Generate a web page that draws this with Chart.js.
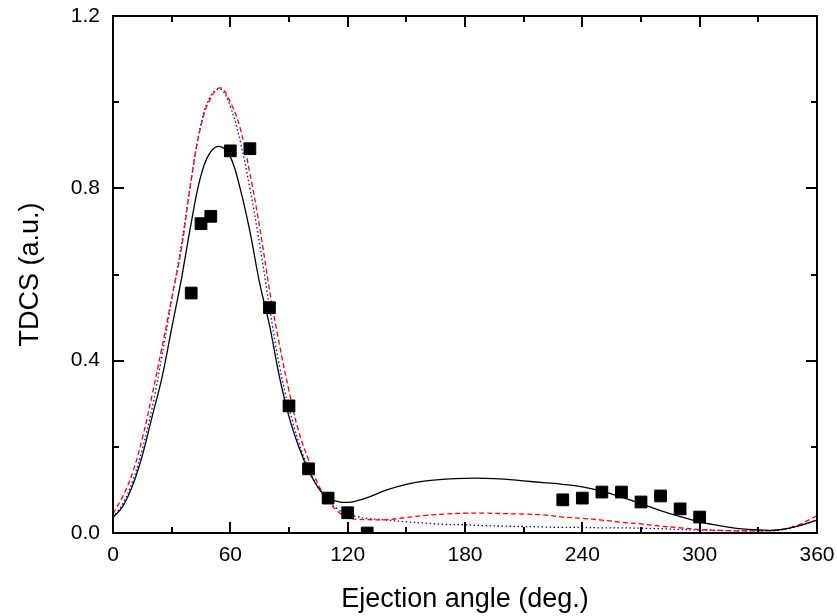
<!DOCTYPE html>
<html>
<head>
<meta charset="utf-8">
<script src="https://cdn.jsdelivr.net/npm/chart.js@4.4.1/dist/chart.umd.min.js"></script>
<style>
html, body { margin: 0; padding: 0; background: #fff; }
</style>
</head>
<body>
<canvas id="tdcsChart" width="837" height="616"></canvas>
<script>
// measured TDCS points
var expAngles = [40, 45, 50, 60, 70, 80, 90, 100, 110, 120, 130, 230, 240, 250, 260, 270, 280, 290, 300];
var expTdcs = [0.557, 0.718, 0.735, 0.887, 0.892, 0.523, 0.295, 0.149, 0.081, 0.047, 0.0, 0.077, 0.081, 0.095, 0.095, 0.072, 0.086, 0.056, 0.037];

// theory curves, sampled on a common angle grid
var curveAngles = [0, 5, 10, 15, 20, 25, 30, 35, 40, 45, 50, 55, 60, 65, 70, 75, 80, 85, 90, 95,
	100, 105, 110, 115, 120, 125, 130, 140, 150, 160, 170, 180, 190, 200, 210, 220, 230, 240,
	250, 260, 270, 280, 290, 300, 310, 320, 330, 340, 350, 360];
var solidCurve = [0.036, 0.062, 0.11, 0.18, 0.27, 0.36, 0.475, 0.59, 0.72, 0.83, 0.885, 0.897, 0.873, 0.80, 0.70, 0.58, 0.483, 0.365, 0.27, 0.20,
	0.145, 0.105, 0.081, 0.073, 0.071, 0.075, 0.082, 0.10, 0.113, 0.121, 0.125, 0.127, 0.127, 0.125, 0.121, 0.117, 0.113, 0.107,
	0.097, 0.083, 0.068, 0.052, 0.038, 0.026, 0.017, 0.010, 0.007, 0.007, 0.016, 0.030];
var dashedCurve = [0.045, 0.085, 0.14, 0.22, 0.32, 0.43, 0.545, 0.66, 0.82, 0.945, 1.01, 1.033, 1.0, 0.94, 0.835, 0.71, 0.565, 0.44, 0.33, 0.235,
	0.17, 0.112, 0.075, 0.05, 0.035, 0.032, 0.031, 0.031, 0.036, 0.041, 0.044, 0.046, 0.046, 0.045, 0.044, 0.042, 0.037, 0.034,
	0.030, 0.025, 0.021, 0.016, 0.012, 0.008, 0.006, 0.005, 0.005, 0.007, 0.018, 0.040];
var dottedCurve = [0.036, 0.068, 0.12, 0.195, 0.29, 0.41, 0.54, 0.67, 0.82, 0.95, 1.015, 1.03, 0.99, 0.91, 0.80, 0.67, 0.525, 0.39, 0.29, 0.21,
	0.15, 0.105, 0.075, 0.055, 0.043, 0.038, 0.034, 0.030, 0.026, 0.023, 0.020, 0.019, 0.017, 0.016, 0.015, 0.014, 0.013, 0.013,
	0.012, 0.012, 0.011, 0.010, 0.008, 0.007, 0.006, 0.005, 0.005, 0.006, 0.015, 0.030];

var xMajorTicks = [0, 60, 120, 180, 240, 300, 360];
var xMinorTicks = [30, 90, 150, 210, 270, 330];
var yMajorTicks = [0, 0.4, 0.8, 1.2];
var yMinorTicks = [0.2, 0.6, 1.0];

function toPoints(xs, ys) {
	var pts = [];
	for (var i = 0; i < xs.length; i++) {
		pts.push({ x: xs[i], y: ys[i] });
	}
	return pts;
}

var fontFamily = '"Liberation Sans", Arial, sans-serif';

// closed frame with inward ticks on all four sides
var frameTicks = {
	id: 'frameTicks',
	afterDraw: function (chart) {
		var ctx = chart.ctx;
		var a = chart.chartArea;
		var xs = chart.scales.x;
		var ys = chart.scales.y;
		ctx.save();
		ctx.strokeStyle = '#000';
		ctx.lineWidth = 2;
		ctx.strokeRect(a.left, a.top, a.right - a.left, a.bottom - a.top);
		ctx.beginPath();
		function xTick(v, len) {
			var p = Math.round(xs.getPixelForValue(v));
			ctx.moveTo(p, a.bottom);
			ctx.lineTo(p, a.bottom - len);
			ctx.moveTo(p, a.top);
			ctx.lineTo(p, a.top + len);
		}
		function yTick(v, len) {
			var p = Math.round(ys.getPixelForValue(v));
			ctx.moveTo(a.left, p);
			ctx.lineTo(a.left + len, p);
			ctx.moveTo(a.right, p);
			ctx.lineTo(a.right - len, p);
		}
		xMajorTicks.forEach(function (v) { xTick(v, 11); });
		xMinorTicks.forEach(function (v) { xTick(v, 6); });
		yMajorTicks.forEach(function (v) { yTick(v, 11); });
		yMinorTicks.forEach(function (v) { yTick(v, 6); });
		ctx.stroke();
		ctx.restore();
	}
};

var lineBase = {
	showLine: true,
	pointRadius: 0,
	borderWidth: 1.3,
	tension: 0.4,
	fill: false
};

var chartConfig = {
	type: 'scatter',
	data: {
		datasets: [{
			label: 'Experiment',
			data: toPoints(expAngles, expTdcs),
			pointStyle: 'rect',
			pointRadius: 8.3,
			backgroundColor: '#000',
			borderColor: '#000',
			borderWidth: 1,
			clip: 0
		}, Object.assign({}, lineBase, {
			label: 'Theory',
			data: toPoints(curveAngles, solidCurve),
			borderColor: '#000'
		}), Object.assign({}, lineBase, {
			label: 'Model A',
			data: toPoints(curveAngles, dashedCurve),
			borderColor: '#ff0000',
			borderDash: [5, 3]
		}), Object.assign({}, lineBase, {
			label: 'Model B',
			data: toPoints(curveAngles, dottedCurve),
			borderColor: '#0000ff',
			borderDash: [1.5, 2.5]
		})]
	},
	options: {
		responsive: false,
		animation: false,
		events: [],
		layout: {
			padding: { top: 16, right: 20, left: 0, bottom: 0 }
		},
		plugins: {
			legend: { display: false },
			tooltip: { enabled: false }
		},
		scales: {
			x: {
				type: 'linear',
				min: 0,
				max: 360,
				afterBuildTicks: function (scale) {
					scale.ticks = xMajorTicks.map(function (v) { return { value: v }; });
				},
				afterFit: function (scale) {
					scale.height = 83;
					scale.paddingLeft = 0;
					scale.paddingRight = 0;
				},
				grid: { display: false, drawTicks: false },
				border: { display: false },
				ticks: {
					color: '#000',
					padding: 10,
					maxRotation: 0,
					font: { family: fontFamily, size: 21 }
				},
				title: {
					display: true,
					text: 'Ejection angle (deg.)',
					color: '#000',
					padding: { top: 0, bottom: 0 },
					font: { family: fontFamily, size: 27 }
				}
			},
			y: {
				type: 'linear',
				min: 0,
				max: 1.2,
				afterBuildTicks: function (scale) {
					scale.ticks = yMajorTicks.map(function (v) { return { value: v }; });
				},
				afterFit: function (scale) {
					scale.width = 113;
					scale.paddingTop = 0;
					scale.paddingBottom = 0;
				},
				grid: { display: false, drawTicks: false },
				border: { display: false },
				ticks: {
					color: '#000',
					padding: 13,
					font: { family: fontFamily, size: 21 },
					callback: function (v) { return v.toFixed(1); }
				},
				title: {
					display: true,
					text: 'TDCS (a.u.)',
					color: '#000',
					padding: { top: 14, bottom: 0 },
					font: { family: fontFamily, size: 27 }
				}
			}
		}
	},
	plugins: [frameTicks]
};

// eslint-disable-next-line no-undef
var chart = new Chart(document.getElementById('tdcsChart'), chartConfig);
</script>
</body>
</html>
